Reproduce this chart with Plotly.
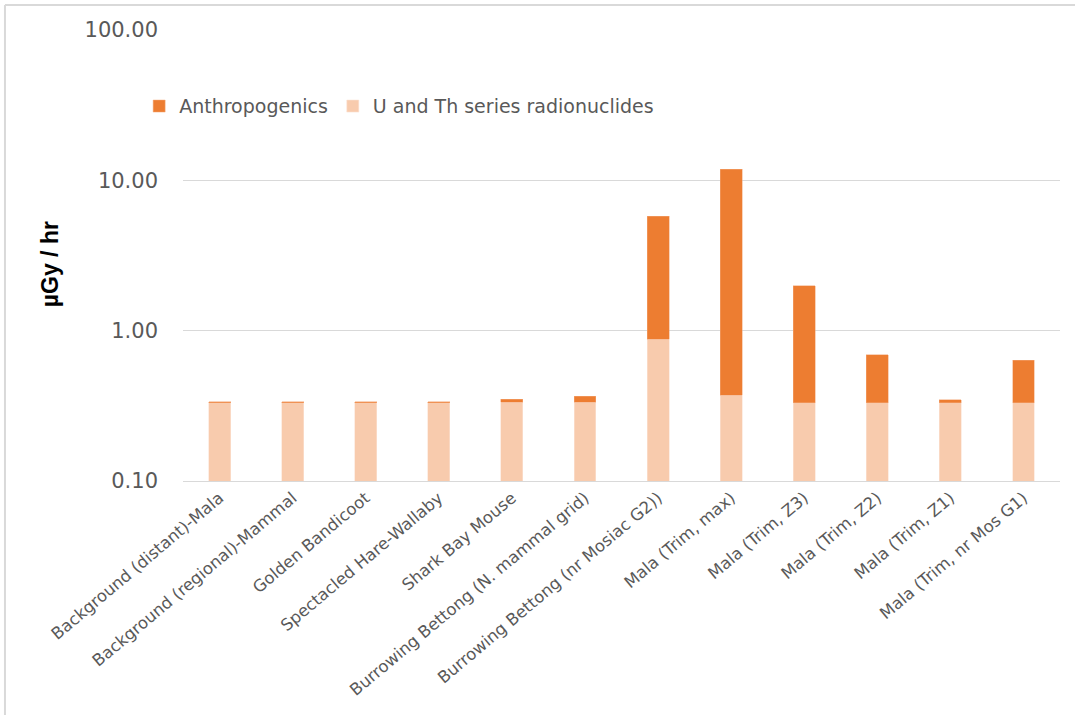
import plotly.graph_objects as go

# Absorbed dose rates (µGy/hr) per site / species
categories = [
    "Background (distant)-Mala",
    "Background (regional)-Mammal",
    "Golden Bandicoot",
    "Spectacled Hare-Wallaby",
    "Shark Bay Mouse",
    "Burrowing Bettong (N. mammal grid)",
    "Burrowing Bettong (nr Mosiac G2))",
    "Mala (Trim, max)",
    "Mala (Trim, Z3)",
    "Mala (Trim, Z2)",
    "Mala (Trim, Z1)",
    "Mala (Trim, nr Mos G1)",
]
u_th_series = [0.332, 0.332, 0.332, 0.332, 0.333, 0.333, 0.88, 0.373, 0.332, 0.332, 0.332, 0.332]
anthropogenics = [0.004, 0.004, 0.004, 0.004, 0.017, 0.033, 4.89, 11.49, 1.66, 0.36, 0.014, 0.306]

tick_vals = [0.1, 1, 10, 100]
tick_text = ["0.10", "1.00", "10.00", "100.00"]

GRAY_TEXT = "#595959"
GRID = "#d9d9d9"
FONT = "DejaVu Sans"

fig = go.Figure()
fig.add_trace(go.Bar(
    x=categories, y=u_th_series, name="U and Th series radionuclides",
    marker=dict(color="#F8CBAD", line=dict(color="#FBE3D3", width=0.6)),
))
fig.add_trace(go.Bar(
    x=categories, y=anthropogenics, name="Anthropogenics",
    marker=dict(color="#ED7D31", line=dict(color="#F4A877", width=0.5)),
))

fig.update_layout(
    width=1075, height=715,
    margin=dict(l=183, r=15, t=30, b=234),
    paper_bgcolor="white", plot_bgcolor="white",
    barmode="stack", bargap=0.7,
    font=dict(family=FONT, color=GRAY_TEXT),
    legend=dict(
        orientation="h", traceorder="reversed",
        x=-0.05, y=0.831, xanchor="left", yanchor="middle",
        font=dict(size=19, color=GRAY_TEXT, family=FONT),
        bgcolor="rgba(0,0,0,0)",
    ),
    xaxis=dict(
        type="category", tickangle=-40, showgrid=False,
        showline=True, linecolor=GRID, linewidth=1,
        tickfont=dict(size=16.5, color=GRAY_TEXT, family=FONT),
        ticks="",
    ),
    yaxis=dict(
        type="log", range=[-1, 2],
        tickvals=tick_vals, ticktext=tick_text,
        showgrid=True, gridcolor=GRID, gridwidth=1,
        zeroline=False, showline=False, ticks="",
        ticklabelstandoff=24,
        tickfont=dict(size=21, color=GRAY_TEXT, family=FONT),
    ),
    annotations=[dict(
        text="<b>µGy / hr</b>", textangle=-90,
        xref="paper", yref="paper", x=-0.152, y=0.48,
        xanchor="center", yanchor="middle", showarrow=False,
        font=dict(size=23, color="black", family="Liberation Sans"),
    )],
    shapes=[
        # chart frame (top and left edges)
        dict(type="line", xref="paper", yref="paper",
             x0=-0.203, x1=1.02, y0=1.0554, y1=1.0554,
             line=dict(color=GRID, width=2)),
        dict(type="line", xref="paper", yref="paper",
             x0=-0.203, x1=-0.203, y0=1.0554, y1=-0.6,
             line=dict(color=GRID, width=2)),
    ],
)

fig.write_html("out.html")
